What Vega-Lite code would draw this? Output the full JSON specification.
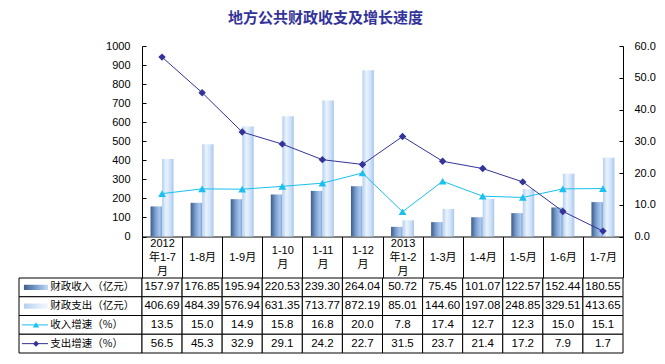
{
  "$schema": "https://vega.github.io/schema/vega-lite/v6.json",
  "background": "white",
  "padding": {"left": 18, "top": 11, "right": 5, "bottom": 5},
  "title": {"text": "地方公共财政收支及增长速度", "font": "Noto Sans CJK SC", "fontSize": 15, "fontWeight": "bold", "color": "#333399", "anchor": "start", "frame": "group", "offset": 14, "dx": 209},
  "config": {"view": {"stroke": null}, "font": "Liberation Sans"},
  "datasets": {
    "main": [
      {"period": "2012年1-7月", "series": "财政收入（亿元）", "value": 157.97},
      {"period": "1-8月", "series": "财政收入（亿元）", "value": 176.85},
      {"period": "1-9月", "series": "财政收入（亿元）", "value": 195.94},
      {"period": "1-10月", "series": "财政收入（亿元）", "value": 220.53},
      {"period": "1-11月", "series": "财政收入（亿元）", "value": 239.30},
      {"period": "1-12月", "series": "财政收入（亿元）", "value": 264.04},
      {"period": "2013年1-2月", "series": "财政收入（亿元）", "value": 50.72},
      {"period": "1-3月", "series": "财政收入（亿元）", "value": 75.45},
      {"period": "1-4月", "series": "财政收入（亿元）", "value": 101.07},
      {"period": "1-5月", "series": "财政收入（亿元）", "value": 122.57},
      {"period": "1-6月", "series": "财政收入（亿元）", "value": 152.44},
      {"period": "1-7月", "series": "财政收入（亿元）", "value": 180.55},
      {"period": "2012年1-7月", "series": "财政支出（亿元）", "value": 406.69},
      {"period": "1-8月", "series": "财政支出（亿元）", "value": 484.39},
      {"period": "1-9月", "series": "财政支出（亿元）", "value": 576.94},
      {"period": "1-10月", "series": "财政支出（亿元）", "value": 631.35},
      {"period": "1-11月", "series": "财政支出（亿元）", "value": 713.77},
      {"period": "1-12月", "series": "财政支出（亿元）", "value": 872.19},
      {"period": "2013年1-2月", "series": "财政支出（亿元）", "value": 85.01},
      {"period": "1-3月", "series": "财政支出（亿元）", "value": 144.60},
      {"period": "1-4月", "series": "财政支出（亿元）", "value": 197.08},
      {"period": "1-5月", "series": "财政支出（亿元）", "value": 248.85},
      {"period": "1-6月", "series": "财政支出（亿元）", "value": 329.51},
      {"period": "1-7月", "series": "财政支出（亿元）", "value": 413.65},
      {"period": "2012年1-7月", "series": "收入增速（%）", "value": 13.5},
      {"period": "1-8月", "series": "收入增速（%）", "value": 15.0},
      {"period": "1-9月", "series": "收入增速（%）", "value": 14.9},
      {"period": "1-10月", "series": "收入增速（%）", "value": 15.8},
      {"period": "1-11月", "series": "收入增速（%）", "value": 16.8},
      {"period": "1-12月", "series": "收入增速（%）", "value": 20.0},
      {"period": "2013年1-2月", "series": "收入增速（%）", "value": 7.8},
      {"period": "1-3月", "series": "收入增速（%）", "value": 17.4},
      {"period": "1-4月", "series": "收入增速（%）", "value": 12.7},
      {"period": "1-5月", "series": "收入增速（%）", "value": 12.3},
      {"period": "1-6月", "series": "收入增速（%）", "value": 15.0},
      {"period": "1-7月", "series": "收入增速（%）", "value": 15.1},
      {"period": "2012年1-7月", "series": "支出增速（%）", "value": 56.5},
      {"period": "1-8月", "series": "支出增速（%）", "value": 45.3},
      {"period": "1-9月", "series": "支出增速（%）", "value": 32.9},
      {"period": "1-10月", "series": "支出增速（%）", "value": 29.1},
      {"period": "1-11月", "series": "支出增速（%）", "value": 24.2},
      {"period": "1-12月", "series": "支出增速（%）", "value": 22.7},
      {"period": "2013年1-2月", "series": "支出增速（%）", "value": 31.5},
      {"period": "1-3月", "series": "支出增速（%）", "value": 23.7},
      {"period": "1-4月", "series": "支出增速（%）", "value": 21.4},
      {"period": "1-5月", "series": "支出增速（%）", "value": 17.2},
      {"period": "1-6月", "series": "支出增速（%）", "value": 7.9},
      {"period": "1-7月", "series": "支出增速（%）", "value": 1.7}
    ]
  },
  "columns": 2,
  "spacing": {"row": 41, "column": 0},
  "bounds": "flush",
  "align": "each",
  "concat": [
    {
      "width": 123, "height": 190.5,
      "data": {"values": [{}]},
      "mark": {"type": "text"},
      "encoding": {"text": {"value": ""}}
    },
    {
      "width": 481, "height": 190.5,
      "data": {"name": "main"},
      "layer": [
        {
          "encoding": {
            "x": {
              "field": "period", "type": "nominal",
              "scale": {"domain": ["2012年1-7月", "1-8月", "1-9月", "1-10月", "1-11月", "1-12月", "2013年1-2月", "1-3月", "1-4月", "1-5月", "1-6月", "1-7月"], "paddingInner": 0, "paddingOuter": 0},
              "axis": {
                "title": null, "orient": "bottom", "grid": false, "domain": true, "domainColor": "#000", "domainWidth": 1,
                "ticks": true, "tickBand": "extent", "tickSize": 41, "tickColor": "#000", "tickWidth": 1,
                "labelAngle": 0, "labelFont": "Liberation Sans, Noto Sans CJK SC", "labelFontSize": 11, "labelColor": "#000",
                "labelBaseline": "middle", "labelOverlap": false, "labelBound": false, "labelFlush": false,
                "labelExpr": "indexof(datum.label, '年') > 0 ? substring(datum.label, 0, 4) : (length(datum.label) > 4 ? substring(datum.label, 0, length(datum.label) - 1) : datum.label)",
                "labelPadding": {"condition": [{"test": "indexof(datum.label, '年') > 0", "value": -34.5}, {"test": "length(datum.label) > 4", "value": -27.5}], "value": -20.5}
              }
            },
            "y": {
              "field": "value", "type": "quantitative",
              "scale": {"domain": [0, 1000], "nice": false},
              "axis": {"orient": "left", "title": null, "values": [0, 100, 200, 300, 400, 500, 600, 700, 800, 900, 1000], "format": "d", "grid": false, "domain": true, "domainColor": "#000", "ticks": true, "tickColor": "#000", "tickSize": -4, "labelPadding": 16, "labelFont": "Liberation Sans", "labelFontSize": 11, "labelColor": "#000"}
            },
            "xOffset": {"field": "series", "type": "nominal", "scale": {"domain": ["财政收入（亿元）", "财政支出（亿元）"], "paddingInner": 0, "paddingOuter": 0.743}}
          },
          "layer": [
            {
              "transform": [{"filter": {"field": "series", "equal": "财政收入（亿元）"}}],
              "mark": {"type": "bar", "stroke": null, "fill": {"gradient": "linear", "x1": 0, "y1": 0, "x2": 1, "y2": 0, "stops": [{"offset": 0, "color": "#3d5d8a"}, {"offset": 0.45, "color": "#7fa3d3"}, {"offset": 0.8, "color": "#a9c8ee"}, {"offset": 1, "color": "#7d9ecb"}]}}
            },
            {
              "transform": [{"filter": {"field": "series", "equal": "财政支出（亿元）"}}],
              "mark": {"type": "bar", "stroke": null, "fill": {"gradient": "linear", "x1": 0, "y1": 0, "x2": 1, "y2": 0, "stops": [{"offset": 0, "color": "#b4cff0"}, {"offset": 0.35, "color": "#eaf3fd"}, {"offset": 0.7, "color": "#cfe2f8"}, {"offset": 1, "color": "#a9c7ec"}]}}
            }
          ]
        },
        {
          "encoding": {
            "x": {
              "field": "period", "type": "nominal",
              "scale": {"domain": ["2012年1-7月", "1-8月", "1-9月", "1-10月", "1-11月", "1-12月", "2013年1-2月", "1-3月", "1-4月", "1-5月", "1-6月", "1-7月"], "paddingInner": 0, "paddingOuter": 0},
              "axis": {
                "title": null, "orient": "bottom", "grid": false, "domain": false,
                "ticks": true, "tickBand": "extent", "tickSize": 41, "tickOpacity": 0,
                "labelAngle": 0, "labelFont": "Liberation Sans, Noto Sans CJK SC", "labelFontSize": 11, "labelColor": "#000",
                "labelBaseline": "middle", "labelOverlap": false, "labelBound": false, "labelFlush": false,
                "labelExpr": "indexof(datum.label, '年') > 0 ? substring(datum.label, 4, length(datum.label) - 1) : (length(datum.label) > 4 ? '月' : '')",
                "labelPadding": {"condition": {"test": "indexof(datum.label, '年') > 0", "value": -20.5}, "value": -13.5}
              }
            },
            "y": {
              "field": "value", "type": "quantitative",
              "scale": {"domain": [0, 60], "nice": false},
              "axis": {"orient": "right", "title": null, "values": [0, 10, 20, 30, 40, 50, 60], "format": ".1f", "grid": false, "domain": true, "domainColor": "#000", "ticks": true, "tickColor": "#000", "tickSize": -4, "labelPadding": 15, "labelFont": "Liberation Sans", "labelFontSize": 11, "labelColor": "#000"}
            },
            "order": {"value": null}
          },
          "layer": [
            {
              "transform": [{"filter": {"field": "series", "equal": "收入增速（%）"}}],
              "mark": {"type": "line", "color": "#19c0f0", "strokeWidth": 1, "point": {"filled": true, "shape": "triangle-up", "size": 60, "color": "#19c0f0", "opacity": 1}}
            },
            {
              "transform": [{"filter": {"field": "series", "equal": "支出增速（%）"}}],
              "mark": {"type": "line", "color": "#333399", "strokeWidth": 1, "point": {"filled": true, "shape": "diamond", "size": 55, "color": "#333399", "opacity": 1}}
            }
          ]
        },
        {
          "transform": [{"filter": {"field": "series", "equal": "收入增速（%）"}}],
          "mark": {"type": "text", "text": ""},
          "encoding": {
            "x": {
              "field": "period", "type": "nominal",
              "scale": {"domain": ["2012年1-7月", "1-8月", "1-9月", "1-10月", "1-11月", "1-12月", "2013年1-2月", "1-3月", "1-4月", "1-5月", "1-6月", "1-7月"], "paddingInner": 0, "paddingOuter": 0},
              "axis": {
                "title": null, "orient": "bottom", "grid": false, "domain": false,
                "ticks": true, "tickBand": "extent", "tickSize": 41, "tickOpacity": 0,
                "labelAngle": 0, "labelFont": "Liberation Sans, Noto Sans CJK SC", "labelFontSize": 11, "labelColor": "#000",
                "labelBaseline": "middle", "labelOverlap": false, "labelBound": false, "labelFlush": false,
                "labelExpr": "indexof(datum.label, '年') > 0 ? '月' : ''",
                "labelPadding": -6.5
              }
            }
          }
        }
      ],
      "resolve": {"scale": {"y": "independent"}, "axis": {"x": "independent"}}
    },
    {
      "width": 123, "height": 75,
      "data": {"name": "main"},
      "transform": [{"aggregate": [{"op": "count", "as": "n"}], "groupby": ["series"]}],
      "encoding": {
        "y": {"field": "series", "type": "nominal", "scale": {"domain": ["财政收入（亿元）", "财政支出（亿元）", "收入增速（%）", "支出增速（%）"], "paddingInner": 0, "paddingOuter": 0}, "axis": null}
      },
      "layer": [
        {"mark": {"type": "rect", "fill": "#fff", "stroke": "#000", "strokeWidth": 1}},
        {
          "transform": [{"filter": {"field": "series", "equal": "财政收入（亿元）"}}],
          "mark": {"type": "bar", "height": {"band": 0.28}, "stroke": null, "fill": {"gradient": "linear", "x1": 0, "y1": 0, "x2": 1, "y2": 0, "stops": [{"offset": 0, "color": "#3f5f8c"}, {"offset": 0.55, "color": "#7fa2d0"}, {"offset": 1, "color": "#c4dbf5"}]}},
          "encoding": {"x": {"datum": 0.04, "type": "quantitative", "scale": {"domain": [0, 1], "nice": false, "zero": false}, "axis": null}, "x2": {"datum": 0.236}}
        },
        {
          "transform": [{"filter": {"field": "series", "equal": "财政支出（亿元）"}}],
          "mark": {"type": "bar", "height": {"band": 0.28}, "stroke": null, "fill": {"gradient": "linear", "x1": 0, "y1": 0, "x2": 1, "y2": 0, "stops": [{"offset": 0, "color": "#b5cff0"}, {"offset": 0.6, "color": "#dde9fa"}, {"offset": 1, "color": "#f2f7fe"}]}},
          "encoding": {"x": {"datum": 0.04, "type": "quantitative", "scale": {"domain": [0, 1], "nice": false, "zero": false}, "axis": null}, "x2": {"datum": 0.236}}
        },
        {
          "transform": [{"filter": {"field": "series", "equal": "收入增速（%）"}}],
          "mark": {"type": "rule", "color": "#19c0f0", "strokeWidth": 1},
          "encoding": {"x": {"datum": 0.024, "type": "quantitative", "scale": {"domain": [0, 1], "nice": false, "zero": false}, "axis": null}, "x2": {"datum": 0.236}}
        },
        {
          "transform": [{"filter": {"field": "series", "equal": "收入增速（%）"}}],
          "mark": {"type": "point", "shape": "triangle-up", "filled": true, "size": 40, "color": "#19c0f0", "opacity": 1},
          "encoding": {"x": {"datum": 0.138, "type": "quantitative", "scale": {"domain": [0, 1], "nice": false, "zero": false}, "axis": null}}
        },
        {
          "transform": [{"filter": {"field": "series", "equal": "支出增速（%）"}}],
          "mark": {"type": "rule", "color": "#333399", "strokeWidth": 1},
          "encoding": {"x": {"datum": 0.024, "type": "quantitative", "scale": {"domain": [0, 1], "nice": false, "zero": false}, "axis": null}, "x2": {"datum": 0.236}}
        },
        {
          "transform": [{"filter": {"field": "series", "equal": "支出增速（%）"}}],
          "mark": {"type": "point", "shape": "diamond", "filled": true, "size": 36, "color": "#333399", "opacity": 1},
          "encoding": {"x": {"datum": 0.138, "type": "quantitative", "scale": {"domain": [0, 1], "nice": false, "zero": false}, "axis": null}}
        },
        {
          "mark": {"type": "text", "align": "left", "baseline": "middle", "font": "Noto Sans CJK SC", "fontSize": 10.5, "color": "#000"},
          "encoding": {"x": {"datum": 0.255, "type": "quantitative", "scale": {"domain": [0, 1], "nice": false, "zero": false}, "axis": null}, "text": {"field": "series", "type": "nominal"}}
        }
      ]
    },
    {
      "width": 481, "height": 75,
      "data": {"name": "main"},
      "encoding": {
        "x": {"field": "period", "type": "nominal", "scale": {"domain": ["2012年1-7月", "1-8月", "1-9月", "1-10月", "1-11月", "1-12月", "2013年1-2月", "1-3月", "1-4月", "1-5月", "1-6月", "1-7月"], "paddingInner": 0, "paddingOuter": 0}, "axis": null},
        "y": {"field": "series", "type": "nominal", "scale": {"domain": ["财政收入（亿元）", "财政支出（亿元）", "收入增速（%）", "支出增速（%）"], "paddingInner": 0, "paddingOuter": 0}, "axis": null}
      },
      "layer": [
        {"mark": {"type": "rect", "fill": "#fff", "stroke": "#000", "strokeWidth": 1}},
        {
          "transform": [{"filter": {"field": "series", "oneOf": ["财政收入（亿元）", "财政支出（亿元）"]}}],
          "mark": {"type": "text", "font": "Liberation Sans", "fontSize": 11.5, "color": "#000", "baseline": "middle"},
          "encoding": {"text": {"field": "value", "type": "quantitative", "format": ".2f"}}
        },
        {
          "transform": [{"filter": {"field": "series", "oneOf": ["收入增速（%）", "支出增速（%）"]}}],
          "mark": {"type": "text", "font": "Liberation Sans", "fontSize": 11.5, "color": "#000", "baseline": "middle"},
          "encoding": {"text": {"field": "value", "type": "quantitative", "format": ".1f"}}
        }
      ]
    }
  ]
}
